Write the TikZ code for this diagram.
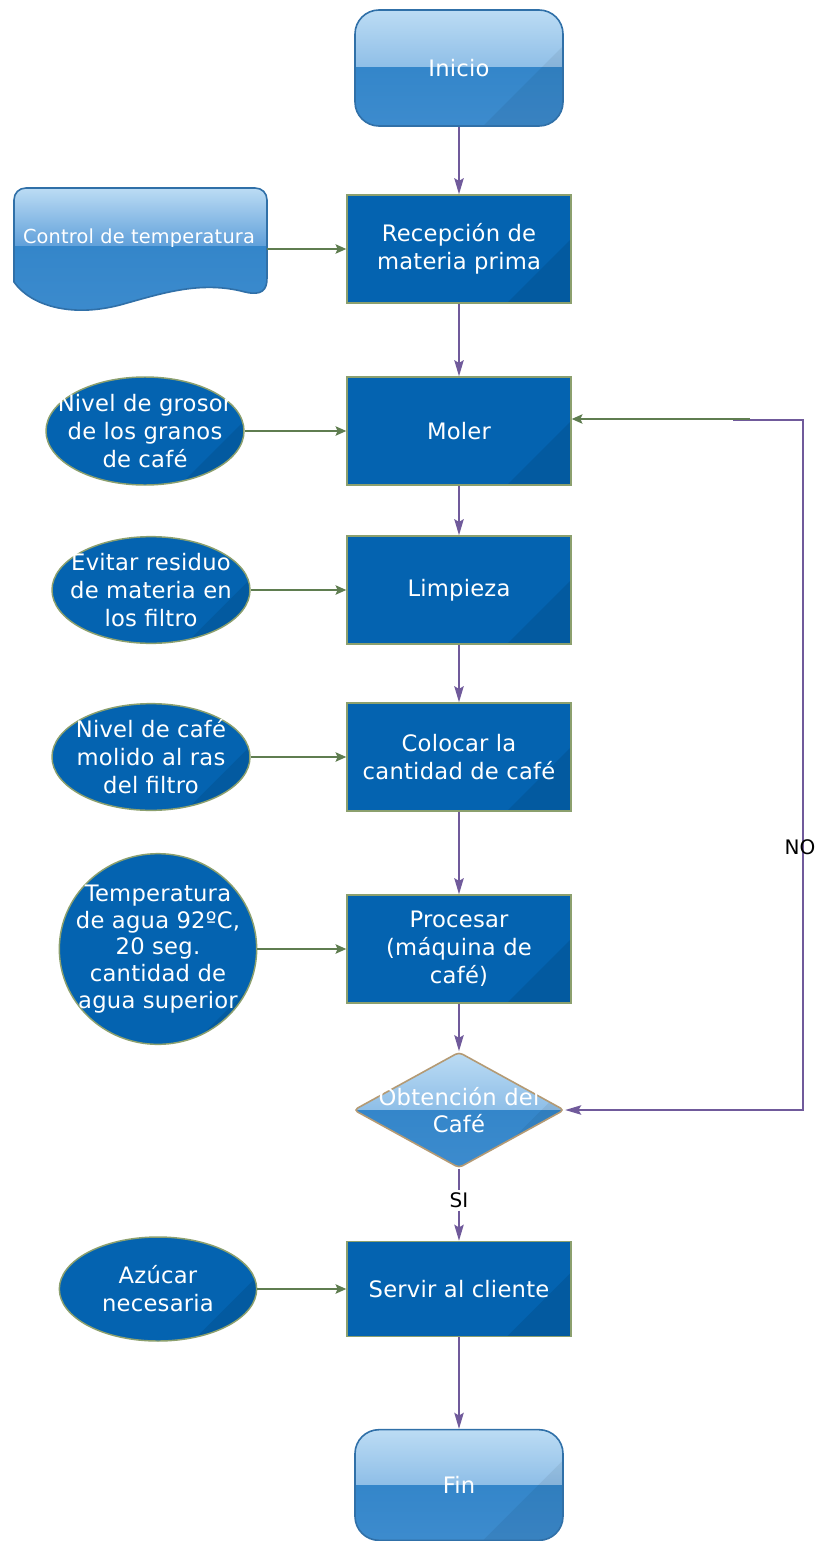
\documentclass[tikz,border=0pt]{standalone}
\usepackage{fontspec}
\setmainfont{DejaVu Sans}
\newfontfamily\lblfont[LetterSpace=1]{DejaVu Sans}
\usetikzlibrary{shapes.geometric,arrows.meta,calc}

\definecolor{procblue}{RGB}{4,99,176}
\definecolor{boxedge}{RGB}{140,160,110}
\definecolor{glossTop}{RGB}{188,220,244}
\definecolor{glossMid}{RGB}{96,160,218}
\definecolor{glossLow}{RGB}{52,134,202}
\definecolor{glossedge}{RGB}{48,112,168}
\definecolor{diaedge}{RGB}{180,154,116}
\definecolor{flowpurple}{RGB}{112,90,155}
\definecolor{sidegreen}{RGB}{95,125,80}

\tikzset{
  txt/.style={text=white, font=\lblfont\fontsize{17}{21}\selectfont, align=center, inner sep=0pt},
  stripe/.style={path picture={
      \fill[sharp corners, black, opacity=.09]
        ($(path picture bounding box.south east)+(-48pt,0)$) --
        ($(path picture bounding box.south east)+(0,48pt)$) --
        (path picture bounding box.south east) -- cycle;}},
  procbox/.style={rectangle, draw=boxedge, line width=1.1pt, fill=procblue,
      minimum width=168pt, minimum height=81pt, inner sep=0pt, stripe},
  oval/.style={ellipse, draw=boxedge, line width=1.1pt, fill=procblue, inner sep=0pt, stripe},
  gloss/.style={line width=1.2pt, path picture={
      \shade[sharp corners, top color=glossTop, bottom color=glossMid]
        (path picture bounding box.north west) rectangle (path picture bounding box.east);
      \shade[sharp corners, top color=glossLow, bottom color=glossLow!80!glossMid]
        (path picture bounding box.west) rectangle (path picture bounding box.south east);
      \fill[sharp corners, black, opacity=.06]
        ($(path picture bounding box.south east)+(-60pt,0)$) --
        ($(path picture bounding box.south east)+(0,60pt)$) --
        (path picture bounding box.south east) -- cycle;}},
  terminal/.style={rectangle, rounded corners=18pt, draw=glossedge, gloss,
      minimum width=156pt, minimum height=87pt, inner sep=0pt},
  decision/.style={diamond, draw=diaedge, gloss, rounded corners=3pt,
      minimum width=158pt, minimum height=87pt, inner sep=0pt},
  flow/.style={draw=flowpurple, line width=1.5pt, -{Stealth[length=12pt,width=7pt,inset=2pt]}},
  flowline/.style={draw=flowpurple, line width=1.5pt},
  side/.style={draw=sidegreen, line width=1.4pt, -{Stealth[length=8pt,width=7pt,inset=1.5pt]}},
  tag/.style={text=black, font=\fontsize{15}{17}\selectfont, inner sep=2pt}
}

\begin{document}
\begin{tikzpicture}[x=0.75pt,y=-0.75pt]
\useasboundingbox (0,0) rectangle (820,1541);
\fill[white] (0,0) rectangle (820,1541);

% wavy document shape
\def\docpath{(14,282) -- (14,200) .. controls (14,193) and (19,188) .. (26,188)
  -- (255,188) .. controls (262,188) and (267,193) .. (267,200)
  -- (267,278) .. controls (267,290) and (262,296) .. (245,292)
  .. controls (200,280) and (160,294) .. (120,305)
  .. controls (70,318) and (30,305) .. (14,282) -- cycle}
\begin{scope}
  \clip \docpath;
  \shade[top color=glossTop, bottom color=glossMid] (14,188) rectangle (267,246);
  \shade[top color=glossLow, bottom color=glossLow!80!glossMid] (14,246) rectangle (267,320);
\end{scope}
\draw[glossedge, line width=1.2pt] \docpath;
\node[txt, font=\lblfont\fontsize{14.5}{18}\selectfont] (ctrl) at (139,238) {Control de temperatura};
\coordinate (ctrlout) at (267,249);

% main column
\node[terminal, txt] (inicio) at (459,68) {Inicio};
\node[procbox, txt] (recep) at (459,249) {Recepción de\\materia prima};
\node[procbox, txt] (moler) at (459,431) {Moler};
\node[procbox, txt] (limp) at (459,590) {Limpieza};
\node[procbox, txt] (coloc) at (459,757) {Colocar la\\cantidad de café};
\node[procbox, txt] (proc) at (459,949) {Procesar\\(máquina de\\café)};
\node[decision] (dec) at (459,1110) {};
\node[txt, font=\lblfont\fontsize{17}{20}\selectfont] (tdec) at (dec) {Obtención del\\Café};
\node[procbox, txt, minimum height=71.25pt] (servir) at (459,1289) {Servir al cliente};
\node[terminal, txt, minimum height=83pt] (fin) at (459,1485) {Fin};

% side notes
\node[oval, minimum width=148.5pt, minimum height=81pt] (e1) at (145,431) {};
\node[txt] (t1) at (e1) {Nivel de grosor\\de los granos\\de café};
\node[oval, minimum width=148.5pt, minimum height=80pt] (e2) at (151,590) {};
\node[txt] (t2) at (e2) {Evitar residuo\\de materia en\\los filtro};
\node[oval, minimum width=148.5pt, minimum height=80pt] (e3) at (151,757) {};
\node[txt] (t3) at (e3) {Nivel de café\\molido al ras\\del filtro};
\node[oval, minimum width=148pt, minimum height=143pt] (e4) at (158,949) {};
\node[txt, font=\lblfont\fontsize{17}{20}\selectfont] (t4) at (e4)
  {Temperatura\\de agua 92ºC,\\20 seg.\\cantidad de\\agua superior};
\node[oval, minimum width=148pt, minimum height=78pt] (e5) at (158,1289) {};
\node[txt] (t5) at (e5) {Azúcar\\necesaria};

% main flow
\draw[flow] (inicio) -- (recep);
\draw[flow] (recep) -- (moler);
\draw[flow] (moler) -- (limp);
\draw[flow] (limp) -- (coloc);
\draw[flow] (coloc) -- (proc);
\draw[flow] (proc) -- (dec);
\node[tag, fill=white] (si) at (459,1200) {SI};
\draw[flowline] (dec) -- (si);
\draw[flow] (si) -- (servir);
\draw[flow] (servir) -- (fin);

% side inputs
\draw[side] (ctrlout) -- (recep.west);
\draw[side] (e1.east) -- (moler.west);
\draw[side] (e2.east) -- (limp.west);
\draw[side] (e3.east) -- (coloc.west);
\draw[side] (e4.east) -- (proc.west);
\draw[side] (e5.east) -- (servir.west);

% loop back when the coffee is not right
\coordinate (nc) at (803,420);
\coordinate (pstart) at (733,420);
\coordinate (gstart) at (750,419);
\draw[flow] (pstart) -- (nc) -- (dec.east -| nc) -- (dec.east);
\draw[side] (gstart) -- (moler.east |- gstart);
\node[tag] (no) at (800,847) {NO};
\end{tikzpicture}
\end{document}
